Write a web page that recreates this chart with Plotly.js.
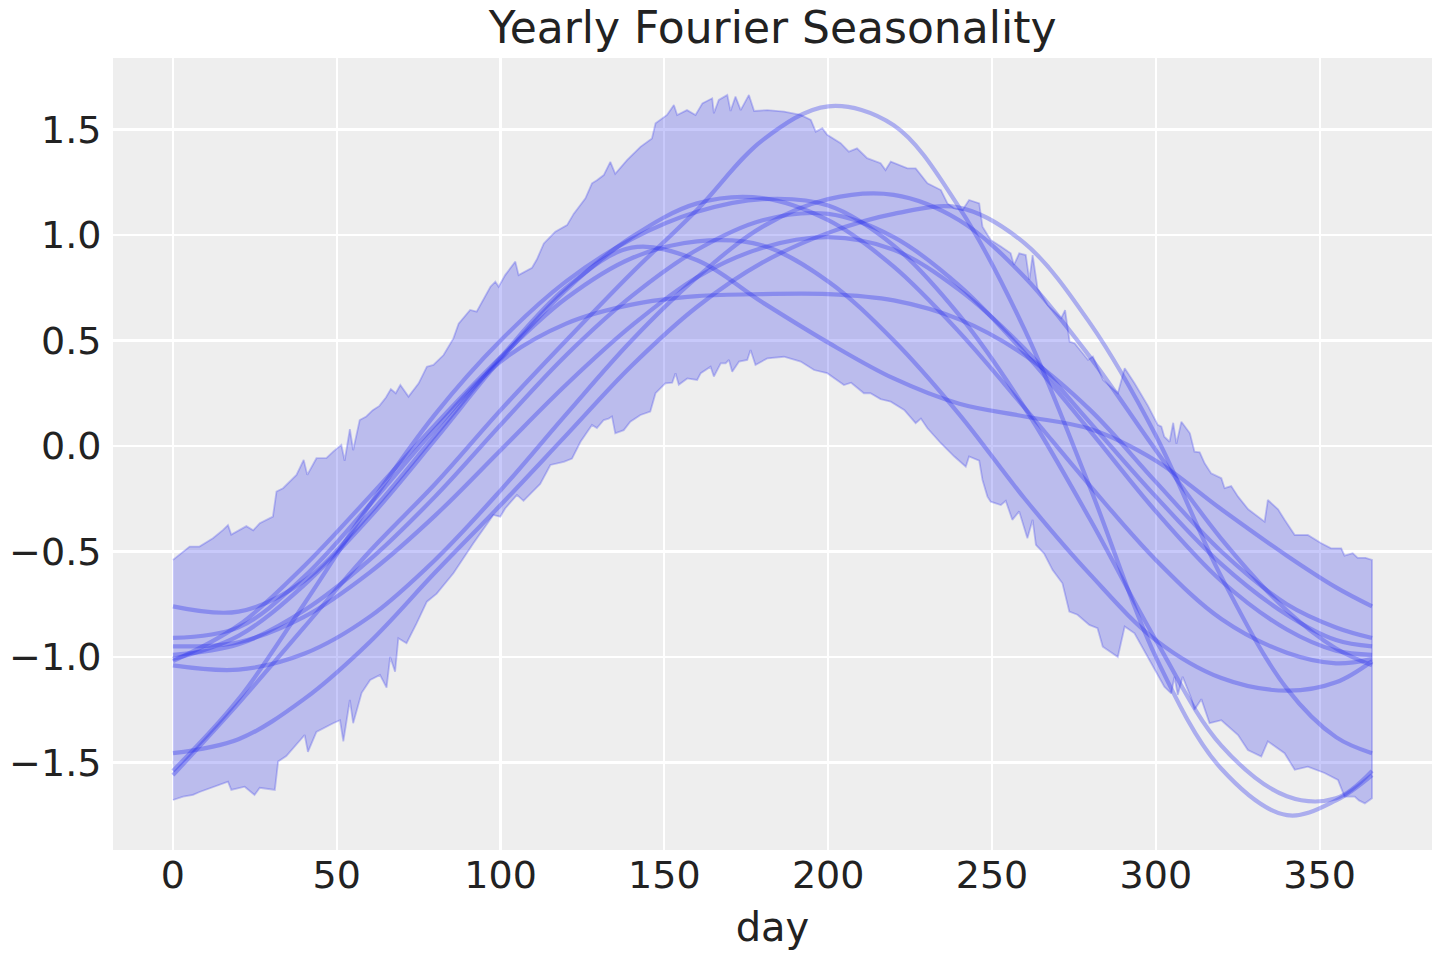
<!DOCTYPE html>
<html>
<head>
<meta charset="utf-8">
<script src="https://cdn.plot.ly/plotly-3.0.1.min.js"></script>
<style>html,body{margin:0;padding:0;background:#fff;}#chart{width:1440px;height:960px;}</style>
</head>
<body>
<div id="chart"></div>
<script>
// ---- HDI band ----
const bandUpperDay = [0,5.1,8.1,12.2,15.3,16.8,17.8,22.4,24.5,26.5,30.5,31.6,33.6,37.7,39.9,41.0,43.8,46.8,48.9,51.4,52.4,54.0,55.0,57.0,59,61,63,65,66.5,68,69.4,71.9,75.0,77.5,79.5,82.6,85.6,87.2,90.7,92.7,96.9,98.4,99.4,101.4,104.5,105.5,109.6,111.1,113.2,116.7,120.3,122.3,125.9,127.9,129.4,131.5,133.5,135.0,138.6,142.7,146.2,147.3,150.8,152.9,153.9,156.9,159.5,161.6,164.6,165.1,166.6,169.2,170.2,171.7,173.3,175.8,177.4,181.4,186.5,191.6,194.7,196.2,198.2,199.7,203.8,206.3,208.8,211.9,216.0,217.5,219.1,224.2,226.7,230.3,234.4,236.4,238.5,241.0,243.0,246.1,247.1,249.6,252.7,255.7,256.7,258.3,260.3,261.4,262.4,263.9,267.0,271.1,272.3,273.7,275.2,279.3,280.8,283.9,288.4,290.5,293.5,297.6,300.6,301.7,302.6,304.2,305.3,306.3,307.8,310.4,311.8,313.4,314.9,316.9,320.0,321.0,323.0,325.1,328.2,331.2,333.2,334.2,337.3,339.3,342.4,346.4,350.5,353.5,356.6,357.6,360.1,361.6,364,366];
const bandUpper = [-0.54,-0.477,-0.477,-0.437,-0.398,-0.375,-0.42,-0.38,-0.40,-0.366,-0.335,-0.216,-0.20,-0.137,-0.066,-0.137,-0.058,-0.058,-0.027,0.005,-0.07,0.08,-0.02,0.123,0.14,0.17,0.19,0.23,0.27,0.25,0.289,0.234,0.297,0.376,0.384,0.431,0.51,0.58,0.645,0.637,0.755,0.779,0.755,0.81,0.874,0.81,0.845,0.885,0.96,1.016,1.047,1.10,1.174,1.245,1.26,1.284,1.347,1.29,1.355,1.418,1.458,1.53,1.569,1.616,1.569,1.592,1.569,1.624,1.648,1.577,1.640,1.664,1.588,1.656,1.592,1.664,1.588,1.592,1.585,1.569,1.546,1.49,1.506,1.475,1.435,1.395,1.411,1.364,1.34,1.308,1.348,1.316,1.316,1.245,1.213,1.15,1.126,1.118,1.166,1.15,1.039,0.976,0.945,0.913,0.858,0.913,0.905,0.787,0.905,0.747,0.668,0.605,0.644,0.494,0.487,0.408,0.424,0.313,0.25,0.368,0.297,0.19,0.10,0.092,0.044,0.02,0.11,0.01,0.115,0.06,-0.027,-0.03,-0.082,-0.13,-0.153,-0.20,-0.19,-0.24,-0.30,-0.335,-0.359,-0.256,-0.30,-0.35,-0.422,-0.422,-0.461,-0.485,-0.485,-0.52,-0.508,-0.53,-0.53,-0.54];
const bandLowerDay = [0,3.1,6.1,8.1,12.2,16.8,17.8,21.9,24.9,26.5,31.1,32.1,34.6,40.2,41.2,43.8,48.9,51.0,52.0,54.0,55.0,57.6,60.2,63.2,65.2,66.3,67.8,68.8,71.3,74.4,77.5,80.5,85.6,91.7,97.8,99.9,101.4,105.0,107.0,112.1,115.2,119.3,121.8,124.4,127.9,129.4,131.5,133.0,134.0,135.0,137.6,139.6,142.7,145.7,147.3,150.3,152.4,153.4,154.4,157.0,160.0,161.1,164.1,165.1,167.2,168.7,169.7,170.7,172.8,175.3,176.3,177.8,181.4,186.5,191.6,195.7,199.7,204.8,207,210.9,212.9,216.0,219.1,223.2,226.7,228.3,230.3,234.4,238.5,242.0,243.0,246.1,247.1,248.6,249.6,252.7,254.2,256.2,258.3,260.8,262.4,263.4,265.9,268.5,271.5,273.6,276.1,279.7,282.2,283.8,288.4,290.5,293.5,297.6,302.6,304.7,305.7,306.7,308.2,310.8,311.8,313.9,316.4,320.0,325.1,328.1,332.2,334.2,339.3,342.4,346.4,351.5,355.6,357.6,360.7,362,363.8,366];
const bandLower = [-1.678,-1.662,-1.654,-1.64,-1.615,-1.591,-1.63,-1.615,-1.654,-1.62,-1.63,-1.496,-1.47,-1.37,-1.45,-1.355,-1.314,-1.30,-1.40,-1.204,-1.314,-1.17,-1.109,-1.085,-1.145,-1.0,-1.07,-0.911,-0.935,-0.84,-0.738,-0.70,-0.603,-0.461,-0.327,-0.335,-0.296,-0.232,-0.26,-0.18,-0.09,-0.075,-0.06,0.02,0.10,0.085,0.123,0.13,0.14,0.06,0.075,0.115,0.147,0.163,0.25,0.297,0.30,0.345,0.29,0.32,0.313,0.345,0.376,0.329,0.392,0.392,0.408,0.352,0.40,0.408,0.455,0.384,0.415,0.423,0.40,0.36,0.345,0.289,0.30,0.25,0.25,0.222,0.21,0.171,0.108,0.13,0.084,0.013,-0.05,-0.098,-0.05,-0.07,-0.161,-0.24,-0.264,-0.28,-0.26,-0.35,-0.31,-0.437,-0.35,-0.469,-0.51,-0.588,-0.651,-0.785,-0.80,-0.848,-0.864,-0.951,-1.0,-0.856,-0.888,-1.0,-1.141,-1.173,-1.094,-1.18,-1.094,-1.196,-1.25,-1.20,-1.314,-1.30,-1.37,-1.441,-1.472,-1.40,-1.456,-1.535,-1.52,-1.55,-1.583,-1.662,-1.662,-1.68,-1.694,-1.67];

// ---- posterior sample curves, read at these days ----
const sampleDays = [0,20,40,60,80,100,120,140,160,180,200,220,240,260,280,300,320,340,355,366];
const sampleP = [-1.56,-1.22,-0.86,-0.50,-0.18,0.17,0.50,0.82,1.12,1.45,1.61,1.52,1.13,0.55,-0.20,-1.00,-1.53,-1.75,-1.68,-1.56];
const sampleZ = [-1.54,-1.20,-0.75,-0.28,0.15,0.50,0.78,0.98,1.11,1.17,1.14,0.95,0.62,0.18,-0.35,-0.92,-1.42,-1.66,-1.67,-1.54];
const sampleY = [-1.456,-1.39,-1.20,-0.93,-0.60,-0.28,0.05,0.38,0.66,0.87,1.01,1.10,1.13,0.96,0.58,0.05,-0.62,-1.15,-1.38,-1.456];
const sampleU = [-1.04,-1.06,-0.985,-0.81,-0.54,-0.21,0.15,0.50,0.80,1.04,1.17,1.19,1.07,0.80,0.42,-0.02,-0.44,-0.78,-0.96,-1.04];
const sampleR = [-1.01,-0.90,-0.66,-0.34,0.03,0.41,0.74,0.99,1.15,1.175,1.07,0.85,0.54,0.18,-0.19,-0.54,-0.82,-0.98,-1.03,-1.01];
const sampleT = [-0.99,-0.94,-0.78,-0.54,-0.24,0.10,0.43,0.71,0.93,1.07,1.10,0.99,0.76,0.44,0.07,-0.31,-0.64,-0.87,-0.97,-0.99];
const sampleV = [-0.95,-0.93,-0.81,-0.60,-0.33,-0.02,0.29,0.57,0.80,0.94,0.99,0.93,0.74,0.46,0.11,-0.24,-0.56,-0.80,-0.92,-0.95];
const sampleW = [-1.02,-0.85,-0.57,-0.24,0.10,0.42,0.70,0.89,0.97,0.95,0.78,0.50,0.15,-0.25,-0.61,-0.92,-1.10,-1.16,-1.12,-1.02];
const sampleQ = [-0.76,-0.785,-0.64,-0.32,0.05,0.42,0.75,0.94,0.88,0.68,0.49,0.32,0.20,0.14,0.08,-0.07,-0.30,-0.52,-0.67,-0.76];
const sampleX = [-0.91,-0.86,-0.62,-0.28,0.08,0.40,0.58,0.67,0.71,0.72,0.72,0.69,0.60,0.43,0.17,-0.17,-0.50,-0.75,-0.86,-0.91];
const samples = [sampleP, sampleZ, sampleY, sampleU, sampleR, sampleT, sampleV, sampleW, sampleQ, sampleX];

const xTicks = [0,50,100,150,200,250,300,350];
const yTicks = [-1.5,-1.0,-0.5,0.0,0.5,1.0,1.5];

const BLUE = '42,46,236';
const traces = [];
traces.push({
  type: 'scatter', mode: 'lines',
  x: bandUpperDay.concat(bandLowerDay.slice().reverse()),
  y: bandUpper.concat(bandLower.slice().reverse()),
  fill: 'toself',
  fillcolor: 'rgba(' + BLUE + ',0.26)',
  line: {color: 'rgba(' + BLUE + ',0.26)', width: 1.8},
  hoverinfo: 'skip', showlegend: false
});
samples.forEach(function (s) {
  traces.push({
    type: 'scatter', mode: 'lines',
    x: sampleDays, y: s,
    line: {color: 'rgba(' + BLUE + ',0.34)', width: 4.2, shape: 'spline', smoothing: 1},
    hoverinfo: 'skip', showlegend: false
  });
});

const FONT = 'DejaVu Sans, Liberation Sans, sans-serif';
const layout = {
  width: 1440, height: 960,
  paper_bgcolor: '#ffffff', plot_bgcolor: '#eeeeee',
  margin: {l: 113, r: 8, t: 58, b: 110},
  font: {family: FONT, color: '#222222', size: 38},
  title: {text: 'Yearly Fourier Seasonality', font: {family: FONT, size: 44, color: '#222222'},
          x: 0.5365, xanchor: 'center', y: 0.971, yanchor: 'middle'},
  xaxis: {
    range: [-18.3, 384.3], tickvals: xTicks, ticktext: xTicks.map(String),
    showgrid: true, gridcolor: '#ffffff', gridwidth: 2.2, zeroline: false,
    showline: false, ticks: '', ticklabelstandoff: -1,
    tickfont: {size: 38, color: '#222222'},
    title: {text: 'day', font: {size: 40, color: '#222222'}, standoff: 16},
    automargin: false
  },
  yaxis: {
    range: [-1.915, 1.839], tickvals: yTicks, tickformat: '.1f',
    showgrid: true, gridcolor: '#ffffff', gridwidth: 2.2, zeroline: false,
    showline: false, ticks: 'outside', ticklen: 3, tickcolor: 'rgba(0,0,0,0)',
    tickfont: {size: 38, color: '#222222'},
    automargin: false
  }
};
Plotly.newPlot('chart', traces, layout, {staticPlot: true, displayModeBar: false});
</script>
</body>
</html>
